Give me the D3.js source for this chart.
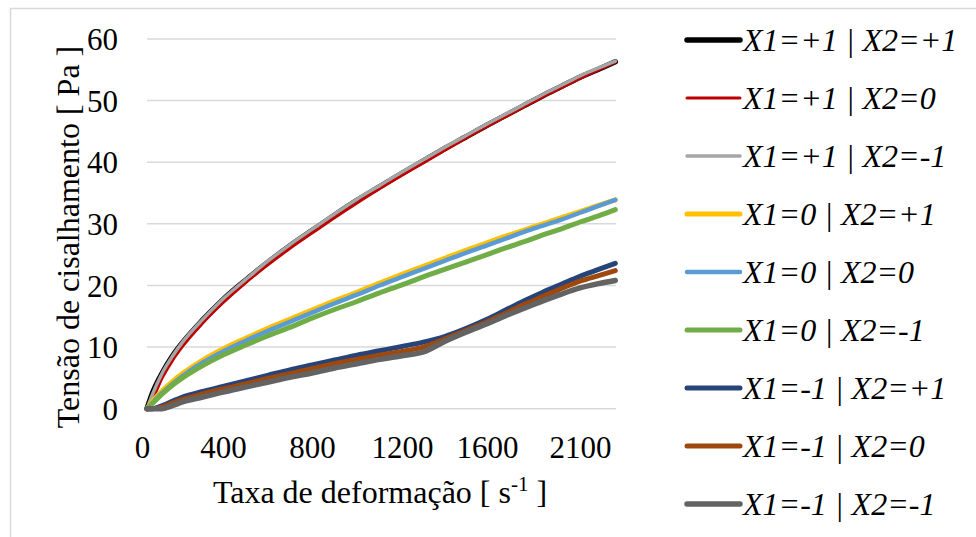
<!DOCTYPE html>
<html>
<head>
<meta charset="utf-8">
<script src="https://cdn.jsdelivr.net/npm/d3@7/dist/d3.min.js"></script>
<style>
  html, body { margin: 0; padding: 0; background: #ffffff; }
  svg { display: block; }
  text { font-family: "Liberation Serif", "Times New Roman", serif; }
</style>
</head>
<body>
<svg id="chart" width="976" height="537"></svg>
<script>
// Shear rate of each sample point [1/s]
const shearRate = [25, 50, 100, 150, 200, 300, 400, 500, 600, 700, 800, 900, 1000, 1100,
  1200, 1300, 1400, 1500, 1600, 1700, 1800, 1900, 2000, 2100, 2200, 2290];

// Shear stress [Pa] for each factor combination
const tauP1P1 = [0, 2.4, 5.8, 8.5, 10.7, 14.4, 17.7, 20.8, 23.7, 26.4, 28.9, 31.4, 33.8, 36.0,
  38.2, 40.2, 42.2, 44.1, 46.0, 47.6, 49.2, 50.8, 52.3, 53.8, 55.1, 56.3];
const tauP1Z0 = [0, 1.4, 5.0, 7.8, 10.1, 13.9, 17.2, 20.4, 23.3, 26.0, 28.5, 31.0, 33.4, 35.7,
  37.9, 39.9, 41.9, 43.9, 45.8, 47.4, 49.0, 50.6, 52.1, 53.6, 55.0, 56.2];
const tauP1M1 = [0, 2.2, 5.8, 8.5, 10.8, 14.5, 17.8, 20.9, 23.9, 26.6, 29.1, 31.6, 34.0, 36.2,
  38.4, 40.4, 42.4, 44.3, 46.2, 47.8, 49.4, 51.0, 52.5, 54.0, 55.3, 56.4];
const tauZ0P1 = [0, 1.1, 2.9, 4.4, 5.7, 7.9, 9.7, 11.4, 13.0, 14.5, 16.0, 17.5, 18.9, 20.4,
  21.8, 23.1, 24.4, 25.7, 26.9, 28.0, 29.0, 30.0, 31.0, 32.0, 33.0, 33.9];
const tauZ0Z0 = [0, 0.9, 2.6, 4.0, 5.3, 7.5, 9.3, 11.0, 12.6, 14.1, 15.6, 17.1, 18.5, 20.0,
  21.4, 22.7, 24.0, 25.3, 26.5, 27.6, 28.7, 29.7, 30.7, 31.8, 32.9, 33.9];
const tauZ0M1 = [0, 0.8, 2.4, 3.8, 5.0, 7.0, 8.7, 10.3, 11.8, 13.2, 14.7, 16.1, 17.4, 18.8,
  20.1, 21.4, 22.6, 23.8, 25.0, 26.1, 27.1, 28.2, 29.2, 30.3, 31.3, 32.3];
const tauM1P1 = [0, 0, 0.5, 1.2, 1.9, 2.8, 3.6, 4.5, 5.4, 6.3, 7.1, 7.9, 8.7, 9.4,
  10.1, 10.8, 11.7, 13.0, 14.5, 16.0, 17.5, 18.9, 20.2, 21.5, 22.6, 23.6];
const tauM1Z0 = [0, 0, 0.3, 0.9, 1.5, 2.4, 3.2, 4.0, 4.9, 5.7, 6.5, 7.3, 8.0, 8.7,
  9.3, 10.0, 11.3, 12.7, 14.1, 15.5, 16.9, 18.2, 19.5, 20.7, 21.6, 22.4];
const tauM1M1 = [0, 0, 0, 0.5, 1.1, 1.9, 2.7, 3.5, 4.3, 5.1, 5.8, 6.6, 7.3, 8.0,
  8.6, 9.2, 10.9, 12.4, 13.8, 15.1, 16.3, 17.5, 18.6, 19.6, 20.3, 20.8];

const seriesNames = ["X1=+1 | X2=+1", "X1=+1 | X2=0", "X1=+1 | X2=-1",
  "X1=0 | X2=+1", "X1=0 | X2=0", "X1=0 | X2=-1",
  "X1=-1 | X2=+1", "X1=-1 | X2=0", "X1=-1 | X2=-1"];
const seriesValues = [tauP1P1, tauP1Z0, tauP1M1, tauZ0P1, tauZ0Z0, tauZ0M1, tauM1P1, tauM1Z0, tauM1M1];
const seriesColors = ["#000000", "#c00000", "#a5a5a5", "#ffc000", "#5b9bd5", "#70ad47",
  "#264478", "#9e480e", "#636363"];
const seriesWidths = [5.5, 3, 3.5, 5, 4.5, 5, 5, 5, 5.5];

const xTickLabels = [0, 400, 800, 1200, 1600, 2100];
const yTickLabels = [0, 10, 20, 30, 40, 50, 60];

const FONT = "Liberation Serif";
const svg = d3.select("#chart");

// Outer chart frame
svg.append("rect")
  .attr("x", 10.5).attr("y", 8.5).attr("width", 1000).attr("height", 600)
  .attr("fill", "none").attr("stroke", "#d9d9d9").attr("stroke-width", 1.5);

// Category-style axis: labelled positions are evenly spaced
const x = d3.scaleLinear()
  .domain([0, 400, 800, 1200, 1600, 2100, 2290])
  .range([142, 223, 312, 402, 487, 580, 615.3]);
const y = d3.scaleLinear().domain([0, 60]).range([408.7, 39]);

const plotLeft = 147, plotRight = 616;

// Horizontal gridlines
svg.append("g").selectAll("line").data(yTickLabels).join("line")
  .attr("x1", plotLeft).attr("x2", plotRight)
  .attr("y1", d => y(d)).attr("y2", d => y(d))
  .attr("stroke", "#d9d9d9").attr("stroke-width", 1.5);

// Y axis labels
const yAxis = d3.axisLeft(y).tickValues(yTickLabels).tickSize(0).tickPadding(0)
  .tickFormat(d3.format("d"));
svg.append("g").attr("transform", "translate(118,0)").call(yAxis)
  .attr("font-family", FONT)
  .call(g => g.select(".domain").remove())
  .call(g => g.selectAll("text").attr("font-family", FONT)
    .attr("font-size", 31).attr("fill", "#000").attr("dy", "0.34em"));

// X axis labels
const xAxis = d3.axisBottom(x).tickValues(xTickLabels).tickSize(0).tickPadding(0)
  .tickFormat(d3.format("d"));
svg.append("g").attr("transform", "translate(0,436)").call(xAxis)
  .attr("font-family", FONT)
  .call(g => g.select(".domain").remove())
  .call(g => g.selectAll("text").attr("font-family", FONT)
    .attr("font-size", 31).attr("fill", "#000").attr("dy", "0.71em"));

// Axis titles
const xTitle = svg.append("text")
  .attr("x", 380).attr("y", 503).attr("font-family", FONT)
  .attr("text-anchor", "middle").attr("font-size", 32).attr("fill", "#000");
xTitle.append("tspan").text("Taxa de deformação [ s");
xTitle.append("tspan").attr("font-size", 21).attr("dy", -12).text("-1");
xTitle.append("tspan").attr("dy", 12).text(" ]");

svg.append("text")
  .attr("transform", "translate(79,237) rotate(-90)").attr("font-family", FONT)
  .attr("text-anchor", "middle").attr("font-size", 32).attr("fill", "#000")
  .text("Tensão de cisalhamento [ Pa ]");

// Series lines
const line = d3.line()
  .x((d, i) => x(shearRate[i]))
  .y(d => y(d))
  .curve(d3.curveMonotoneX);

svg.append("g").selectAll("path").data(seriesValues).join("path")
  .attr("d", d => line(d))
  .attr("fill", "none")
  .attr("stroke", (d, i) => seriesColors[i])
  .attr("stroke-width", (d, i) => seriesWidths[i])
  .attr("stroke-linecap", "round")
  .attr("stroke-linejoin", "round");

// Legend
const legendY = d3.scaleLinear().domain([0, 8]).range([40, 504]);
const legend = svg.append("g").selectAll("g").data(seriesNames).join("g")
  .attr("transform", (d, i) => `translate(0,${legendY(i)})`);
legend.append("line")
  .attr("x1", 687).attr("x2", 740).attr("y1", 0).attr("y2", 0)
  .attr("stroke", (d, i) => seriesColors[i])
  .attr("stroke-width", (d, i) => seriesWidths[i])
  .attr("stroke-linecap", "round");
legend.append("text")
  .attr("x", 743).attr("y", 11).attr("font-family", FONT)
  .attr("font-size", 32).attr("font-style", "italic").attr("fill", "#000")
  .text(d => d);
</script>
</body>
</html>
